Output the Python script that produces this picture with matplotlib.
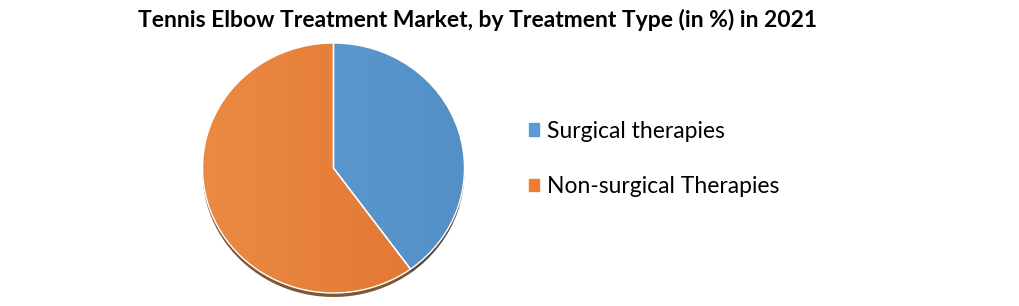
import matplotlib.pyplot as plt
import numpy as np
from matplotlib.colors import LinearSegmentedColormap

# Data
labels = ['Surgical therapies', 'Non-surgical Therapies']
shares = [40, 60]
colors = ['#5B9BD5', '#ED7D31']
light = ['#5F9DD3', '#EB8A43']
dark = ['#5490C8', '#E07530']

W, H = 1019, 306
fig = plt.figure(figsize=(W / 100, H / 100), dpi=100)

# pie area (slightly squashed, like the tilted original)
cx, cy, rx, ry = 333.5, 168, 131, 125
ax = fig.add_axes([(cx - rx) / W, (H - cy - ry) / H, 2 * rx / W, 2 * ry / H])
ax.set_xlim(-1, 1)
ax.set_ylim(-1, 1)
ax.set_aspect('auto')
ax.axis('off')

# soft shadow under the pie
ax.pie(shares, radius=1.0, center=(0.0, -0.032), startangle=90, counterclock=False,
       colors=['#3a2a1a', '#6a3a12'], wedgeprops=dict(linewidth=0, alpha=0.85))

wedges, _ = ax.pie(shares, radius=1.0, startangle=90, counterclock=False,
                   colors=colors, wedgeprops=dict(edgecolor='white', linewidth=1.0))

# light horizontal gradient on each slice
grad = np.linspace(0, 1, 256).reshape(1, -1)
for w, c0, c1 in zip(wedges, light, dark):
    cmap = LinearSegmentedColormap.from_list('g', [c0, c1])
    im = ax.imshow(grad, extent=(-1, 1, -1, 1), cmap=cmap, aspect='auto', zorder=w.get_zorder() + 0.1)
    im.set_clip_path(w)
for w in wedges:
    w.set_facecolor('none')
    w.set_zorder(5)
ax.set_xlim(-1, 1)
ax.set_ylim(-1, 1)

fig.text(478 / W, 1 - 20 / H, 'Tennis Elbow Treatment Market, by Treatment Type (in %) in 2021',
         ha='center', va='center', fontsize=16.5, fontweight='bold', family='Lato')

handles = [plt.Rectangle((0, 0), 1, 1, color=c) for c in colors]
fig.legend(handles, labels, loc='center left', bbox_to_anchor=(508 / W, 1 - 159 / H),
           frameon=False, handlelength=0.45, handleheight=0.45, handletextpad=0.35,
           labelspacing=1.5, prop=dict(family='Lato', size=16.5))

fig.savefig('out.png', dpi=100)
